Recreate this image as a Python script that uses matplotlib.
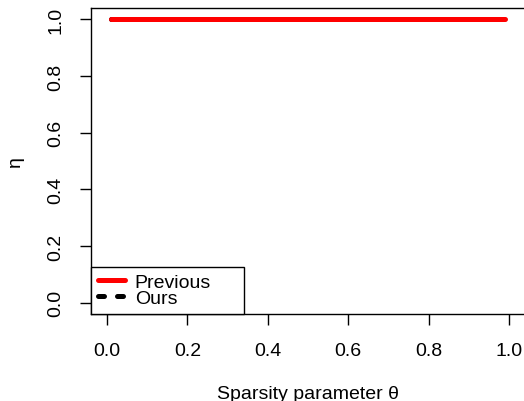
import numpy as np
import matplotlib.pyplot as plt

plt.rcParams['font.family'] = ['Liberation Sans', 'DejaVu Sans']

theta = [0.01, 0.99]
eta_previous = [1.0, 1.0]
eta_ours = [1.0, 1.0]
ticks = [0.0, 0.2, 0.4, 0.6, 0.8, 1.0]

fig = plt.figure(figsize=(5.24, 4.02), dpi=100)
ax = fig.add_axes([91/524, 1-315/402, 434/524, 306/402])

ax.plot(theta, eta_ours, color='black', lw=3.6, ls=(0, (1.2, 2.6)),
        dash_capstyle='round', label='Ours')
ax.plot(theta, eta_previous, color='red', lw=3.6, solid_capstyle='round', label='Previous')

ax.set_xlim(-0.04, 1.04)
ax.set_ylim(-0.04, 1.04)
ax.set_xticks(ticks)
ax.set_yticks(ticks)
ax.set_xticklabels(['%.1f' % t for t in ticks], fontsize=14)
ax.set_yticklabels(['%.1f' % t for t in ticks], fontsize=14, rotation=90, va='center')
ax.tick_params(axis='x', length=8, width=1, pad=12)
ax.tick_params(axis='y', length=8, width=1, pad=11)
for s in ax.spines.values():
    s.set_linewidth(1)

ax.set_xlabel('Sparsity parameter θ', fontsize=14, labelpad=19)
ax.set_ylabel('η', fontsize=14, labelpad=17)

handles, labels = ax.get_legend_handles_labels()
leg = ax.legend(handles[::-1], labels[::-1], loc='lower left',
                bbox_to_anchor=(0, 0, 153/434, 0.2), mode='expand', borderaxespad=0,
                fontsize=14, fancybox=False, edgecolor='black', framealpha=1,
                labelspacing=-0.08, handlelength=1.4, handletextpad=0.5,
                borderpad=0.35)
leg.get_frame().set_linewidth(1)

fig.savefig('out.png', dpi=100)
